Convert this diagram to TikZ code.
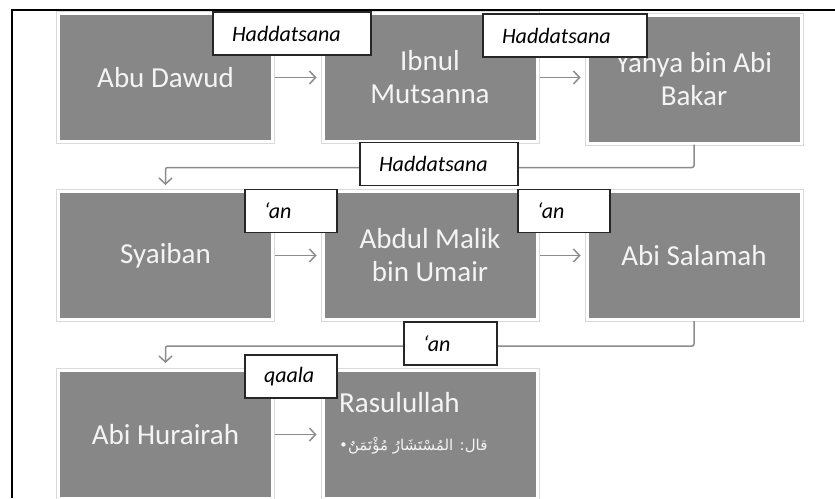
\documentclass[tikz,border=0pt]{standalone}
\usepackage{fontspec}
\setmainfont{Carlito}
\newfontfamily\arabicfont[Script=Arabic]{DejaVu Sans}
\TeXXeTstate=1
\usetikzlibrary{arrows.meta}
\definecolor{boxgray}{HTML}{878787}
\definecolor{conngray}{HTML}{8C8C8C}
\definecolor{ringgray}{HTML}{D9D9D9}
\definecolor{txtwhite}{HTML}{F4F4F4}
\begin{document}
\begin{tikzpicture}[x=1pt,y=-1pt,
  box/.style={fill=boxgray, draw=white, line width=3pt, minimum width=214pt,
    minimum height=128pt, inner sep=0pt, text=txtwhite, align=center,
    font=\fontsize{29}{33}\selectfont,
    preaction={draw=ringgray, line width=5pt}},
  lbl/.style={fill=white, draw=black!85, line width=1.4pt, inner xsep=19pt,
    inner ysep=0pt, minimum height=43pt, align=left,
    font=\itshape\fontsize{22}{26}\selectfont},
  conn/.style={draw=conngray, line width=1.5pt,
    -{Straight Barb[length=6pt,width=13pt,line width=1.5pt]}},
  ras/.style={anchor=west, text=txtwhite, inner sep=0pt},
]
\useasboundingbox (0,0) rectangle (835,498);
\draw[line width=2pt] (12,498) -- (12,10) -- (835,10);

% boxes
\node[box] (abu)      at (165.5,77.5) {Abu Dawud};
\node[box] (ibnul)    at (430,77.5)   {Ibnul\\Mutsanna};
\node[box] (yahya)    at (694,79)     {Yahya bin Abi\\Bakar};
\node[box] (syaiban)  at (165.5,255.5){Syaiban};
\node[box] (abdul)    at (430,255.5)  {Abdul Malik\\bin Umair};
\node[box] (salamah)  at (694,255.5)  {Abi Salamah};
\node[box] (hurairah) at (165.5,434.5){Abi Hurairah};
\node[box] (rasul)    at (430,434.5)  {};

% connectors
\draw[conn, shorten <=1pt, shorten >=5pt] (abu.east) -- (ibnul.west);
\draw[conn, shorten <=1pt, shorten >=5pt] (ibnul.east) -- (ibnul.east -| yahya.west);
\draw[conn, shorten <=1pt, shorten >=5pt] (syaiban.east) -- (abdul.west);
\draw[conn, shorten <=1pt, shorten >=5pt] (abdul.east) -- (salamah.west);
\draw[conn, shorten <=1pt, shorten >=5pt] (hurairah.east) -- (rasul.west);
\draw[conn, rounded corners=2pt, shorten >=5pt] (yahya.south) -- ++(0,23) -| (syaiban.north);
\draw[conn, rounded corners=2pt, shorten >=6pt] (salamah.south) -- ++(0,25) -| (hurairah.north);

% labels
\node[lbl, text width=120pt] (l1) at (292,33.5)  {Haddatsana};
\node[lbl, text width=126pt] (l2) at (565,35.5)  {Haddatsana};
\node[lbl, text width=120pt] (l3) at (439,164)   {Haddatsana};
\node[lbl, text width=54pt]  (l4) at (291,211)   {‘an};
\node[lbl, text width=54pt]  (l5) at (564,211)   {‘an};
\node[lbl, text width=55pt]  (l6) at (450.5,343.5) {‘an};
\node[lbl, text width=54pt]  (l7) at (291,376.5) {qaala};

% Rasulullah contents
\node[ras, font=\fontsize{29}{33}\selectfont] (rasT) at (339,403) {Rasulullah};
\node[ras, font=\arabicfont\fontsize{15}{18}\selectfont] (rasA) at (339,446)
  {\beginR قال: المُسْتَشَارُ مُؤْتَمَنٌ•\endR};
\end{tikzpicture}
\end{document}
